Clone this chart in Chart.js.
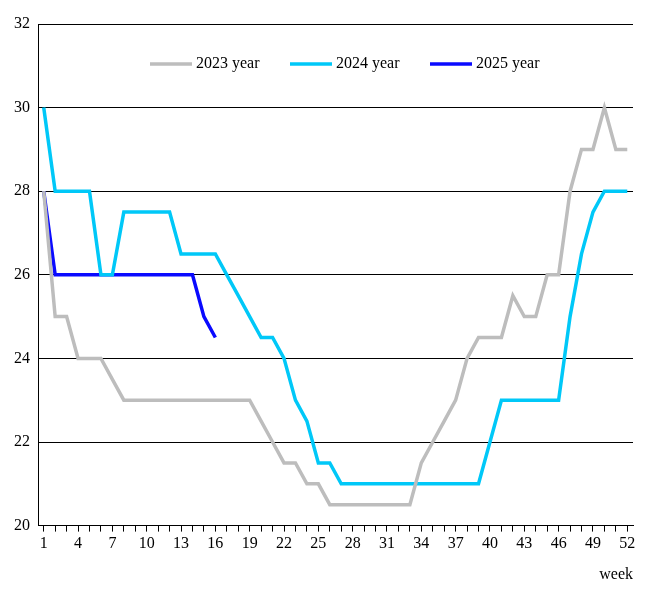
<!DOCTYPE html>
<html>
<head>
<meta charset="utf-8">
<script src="https://cdn.jsdelivr.net/npm/chart.js@4"></script>
<style>
  body { margin: 0; background: #fff; }
  #wrap { width: 659px; height: 616px; }
</style>
</head>
<body>
<div id="wrap"><canvas id="mycanvas"></canvas></div>
<script>
var weeks = [];
for (var w = 1; w <= 52; w++) weeks.push(String(w));

var y2023 = [28,25,25,24,24,24,23.5,23,23,23,23,23,23,23,23,23,23,23,23,22.5,22,21.5,21.5,21,21,20.5,
             20.5,20.5,20.5,20.5,20.5,20.5,20.5,21.5,22,22.5,23,24,24.5,24.5,24.5,25.5,25,25,26,26,
             28,29,29,30,29,29];
var y2024 = [30,28,28,28,28,26,26,27.5,27.5,27.5,27.5,27.5,26.5,26.5,26.5,26.5,26,25.5,25,24.5,24.5,24,
             23,22.5,21.5,21.5,21,21,21,21,21,21,21,21,21,21,21,21,21,22,23,23,23,23,23,23,
             25,26.5,27.5,28,28,28];
var y2025 = [28,26,26,26,26,26,26,26,26,26,26,26,26,26,25,24.5];

var fontFamily = "'Liberation Serif', 'Times New Roman', serif";
var font = { family: fontFamily, size: 16 };

// horizontal legend drawn inside the plot area
var insideLegend = {
    id: 'insideLegend',
    afterDraw: function (chart) {
        var ctx = chart.ctx;
        var area = chart.chartArea;
        var y = area.top + 40;
        var x = 150;
        ctx.save();
        ctx.font = "16px " + fontFamily;
        ctx.textBaseline = "middle";
        chart.data.datasets.forEach(function (ds) {
            ctx.strokeStyle = ds.borderColor;
            ctx.lineWidth = 3.5;
            ctx.beginPath();
            ctx.moveTo(x, y);
            ctx.lineTo(x + 42, y);
            ctx.stroke();
            ctx.fillStyle = "#000";
            ctx.fillText(ds.label, x + 46, y);
            x += 140;
        });
        ctx.restore();
    }
};

new Chart(document.getElementById("mycanvas"), {
    type: 'line',
    data: {
        labels: weeks,
        datasets: [
            { label: "2023 year", data: y2023, borderColor: "#bdbdbd", borderWidth: 3.5 },
            { label: "2024 year", data: y2024, borderColor: "#00c8f8", borderWidth: 3.5 },
            { label: "2025 year", data: y2025, borderColor: "#0a0aff", borderWidth: 3.5 }
        ]
    },
    options: {
        responsive: true,
        maintainAspectRatio: false,
        animation: false,
        layout: { padding: { left: 6, right: 26, top: 24, bottom: 28 } },
        elements: { point: { radius: 0 }, line: { tension: 0 } },
        plugins: {
            tooltip: { enabled: false },
            legend: { display: false }
        },
        scales: {
            x: {
                offset: true,
                grid: { display: true, drawOnChartArea: false, color: "#000", tickLength: 6, offset: false },
                border: { color: "#000" },
                ticks: {
                    autoSkip: false, maxRotation: 0, color: "#000", font: font,
                    callback: function (v, i) { return i % 3 === 0 ? this.getLabelForValue(v) : ""; }
                },
                title: { display: true, text: "week", align: "end", color: "#000", font: font, padding: { top: 8 } }
            },
            y: {
                min: 20, max: 32,
                ticks: { stepSize: 2, color: "#000", font: font, padding: 8 },
                grid: { color: "#000", tickLength: 0 },
                border: { color: "#000" }
            }
        }
    },
    plugins: [insideLegend]
});
</script>
</body>
</html>
